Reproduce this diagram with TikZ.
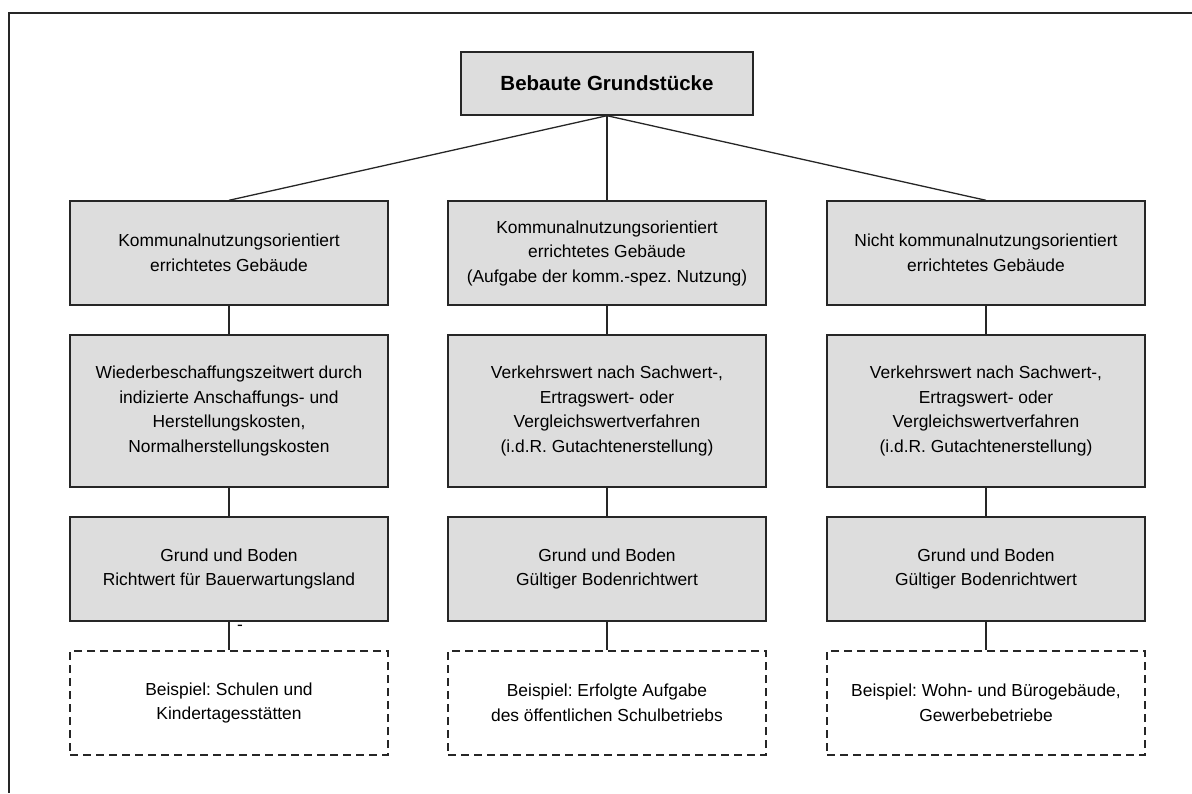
\documentclass[tikz,border=0pt]{standalone}
\usepackage{fontspec}
\setmainfont{Liberation Sans}
\frenchspacing
\definecolor{boxgray}{HTML}{DDDDDD}
\tikzset{
  box/.style={draw=black!85, fill=boxgray, line width=1.4pt, minimum width=318pt,
    minimum height=104pt, align=center, inner sep=0pt,
    font=\fontsize{17.4}{24.5}\selectfont},
  topbox/.style={box, minimum width=292pt, minimum height=63pt,
    font=\fontsize{20.5}{24}\selectfont\bfseries},
  dashbox/.style={box, fill=white, dash pattern=on 8pt off 5pt},
  link/.style={draw=black!85, line width=1.3pt}
}
\begin{document}
\begin{tikzpicture}[x=1pt,y=-1pt]
        \useasboundingbox (0,0) rectangle (1192,793);
        % Frame
        \draw[line width=1.4pt, black!85] (1192,13) -- (9,13) -- (9,793);
        % Top
        \node[topbox] (bebaut) at (607,83.5) {Bebaute Grundstücke};
        % Kind of building
        \node[box] (kommA) at (229,253) {Kommunalnutzungsorientiert\\errichtetes Gebäude};
        \node[box] (kommB) at (607,253) {Kommunalnutzungsorientiert\\errichtetes Gebäude\\(Aufgabe der komm.-spez. Nutzung)};
        \node[box] (kommC) at (986,253) {Nicht kommunalnutzungsorientiert\\errichtetes Gebäude};
        % Value of building
        \node[box, minimum height=152pt] (wertA) at (229,411) {Wiederbeschaffungszeitwert durch\\indizierte Anschaffungs- und\\Herstellungskosten,\\Normalherstellungskosten};
        \node[box, minimum height=152pt] (wertB) at (607,411) {Verkehrswert nach Sachwert-,\\Ertragswert- oder\\Vergleichswertverfahren\\(i.d.R. Gutachtenerstellung)};
        \node[box, minimum height=152pt] (wertC) at (986,411) {Verkehrswert nach Sachwert-,\\Ertragswert- oder\\Vergleichswertverfahren\\(i.d.R. Gutachtenerstellung)};
        % Land
        \node[box] (bodenA) at (229,569) {Grund und Boden\\Richtwert für Bauerwartungsland};
        \node[box] (bodenB) at (607,569) {Grund und Boden\\Gültiger Bodenrichtwert};
        \node[box] (bodenC) at (986,569) {Grund und Boden\\Gültiger Bodenrichtwert};
        % Examples
        \node[dashbox] (bspA) at (229,703) {Beispiel: Schulen und\\Kindertagesstätten};
        \node[dashbox] (bspB) at (607,703) {Beispiel: Erfolgte Aufgabe\\des öffentlichen Schulbetriebs};
        \node[dashbox] (bspC) at (986,703) {Beispiel: Wohn- und Bürogebäude,\\Gewerbebetriebe};
        \node[font=\fontsize{17.4}{20}\selectfont] (strich) at (240,628) {-};
        % Connectors
        \draw[link] (bebaut.south) -- (kommA.north);
        \draw[link] (bebaut.south) -- (kommB.north);
        \draw[link] (bebaut.south) -- (kommC.north);
        \draw[link] (kommA) -- (wertA) (wertA) -- (bodenA) (bodenA) -- (bspA);
        \draw[link] (kommB) -- (wertB) (wertB) -- (bodenB) (bodenB) -- (bspB);
        \draw[link] (kommC) -- (wertC) (wertC) -- (bodenC) (bodenC) -- (bspC);
    \end{tikzpicture}
\end{document}
